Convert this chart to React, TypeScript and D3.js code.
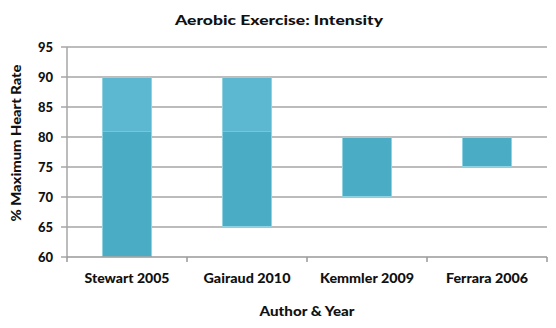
import React from "react";
import * as d3 from "d3";

const categories = ["Stewart 2005", "Gairaud 2010", "Kemmler 2009", "Ferrara 2006"];
const lowValues = [60, 65, 70, 75];
const highValues = [90, 90, 80, 80];
const yTicks = [60, 65, 70, 75, 80, 85, 90, 95];
const shadeSplit = 80.9;

const W = 556, H = 328;
const M = { left: 67, right: 547, top: 47, bottom: 257 };
const labelWidths = [85, 87, 94, 82];
const FONT = "Lato, 'Open Sans', sans-serif";

export default function App() {
  const x = d3.scaleBand<string>().domain(categories).range([M.left, M.right]).paddingInner(0.5833).paddingOuter(0.2917);
  const xb = d3.scaleBand<string>().domain(categories).range([M.left, M.right]).padding(0);
  const y = d3.scaleLinear().domain([60, 95]).range([M.bottom, M.top]);
  const light = "#5BB8D0";
  const dark = "#4BACC6";
  const boundaries = categories.map((c) => xb(c)!).concat([M.right]);
  return (
    <svg width={W} height={H} style={{ position: "absolute", left: 0, top: 0 }}>
      <rect width={W} height={H} fill="#fff" />
      <text x={279} y={25} fontFamily={FONT} fontWeight={900} fontSize={14} textAnchor="middle" textLength={208} lengthAdjust="spacingAndGlyphs" fill="#111">Aerobic Exercise: Intensity</text>
      {yTicks.map((t) => (
        <g key={t}>
          <line x1={M.left - 6} x2={t === 60 ? M.left : M.right} y1={y(t)} y2={y(t)} stroke="#A6A6A6" strokeWidth={1.5} />
          <text x={53} y={y(t) + 4.5} fontFamily={FONT} fontWeight={900} fontSize={13} textAnchor="end" fill="#111">{t}</text>
        </g>
      ))}
      <line x1={M.left} x2={M.left} y1={M.top} y2={M.bottom} stroke="#A6A6A6" strokeWidth={1.5} />
      {categories.map((c, i) => {
        const x0 = x(c)!;
        const bw = x.bandwidth();
        const hi = highValues[i], lo = lowValues[i];
        const split = Math.max(lo, Math.min(hi, shadeSplit));
        return (
          <g key={c}>
            {hi > split && <rect x={x0} y={y(hi)} width={bw} height={y(split) - y(hi)} fill={light} />}
            <rect x={x0} y={y(split)} width={bw} height={y(lo) - y(split)} fill={dark} />
            <rect x={x0 + 0.5} y={y(hi) + 0.5} width={bw - 1} height={y(lo) - y(hi) - 1} fill="none" stroke="#8FD3E3" strokeWidth={1} />
          </g>
        );
      })}
      <line x1={M.left} x2={M.right} y1={M.bottom} y2={M.bottom} stroke="#999" strokeWidth={1.5} />
      {boundaries.map((b, i) => (
        <line key={i} x1={b} x2={b} y1={M.bottom} y2={M.bottom + 5} stroke="#999" strokeWidth={1.5} />
      ))}
      {categories.map((c, i) => (
        <text key={c} x={xb(c)! + xb.bandwidth() / 2} y={283} fontFamily={FONT} fontWeight={900} fontSize={13} textAnchor="middle" textLength={labelWidths[i]} lengthAdjust="spacingAndGlyphs" fill="#111">{c}</text>
      ))}
      <text x={(M.left + M.right) / 2} y={316} fontFamily={FONT} fontWeight={900} fontSize={13} textAnchor="middle" textLength={95} lengthAdjust="spacingAndGlyphs" fill="#111">Author &amp; Year</text>
      <text transform={`translate(21,143) rotate(-90)`} fontFamily={FONT} fontWeight={900} fontSize={13} textAnchor="middle" textLength={157} lengthAdjust="spacingAndGlyphs" fill="#111">% Maximum Heart Rate</text>
    </svg>
  );
}
